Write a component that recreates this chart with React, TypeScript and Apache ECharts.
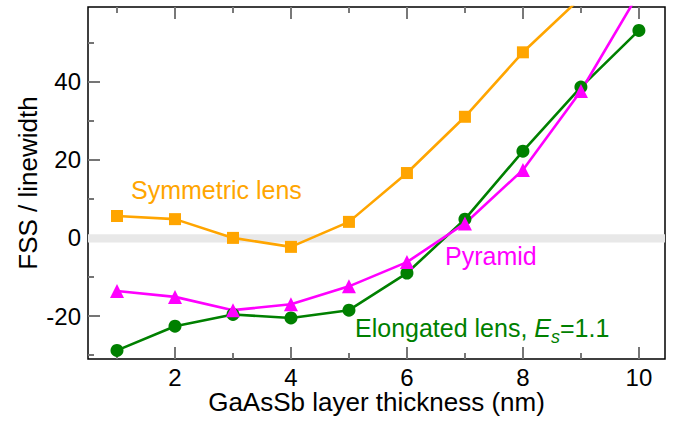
import React, { useEffect, useRef } from "react";
import * as echarts from "echarts";

const thickness = [1, 2, 3, 4, 5, 6, 7, 8, 9, 10];
const symmetricLens = [5.6, 4.8, 0.0, -2.3, 4.1, 16.6, 31.0, 47.5, 61.5];
const pyramid = [-13.6, -15.1, -18.5, -17.0, -12.4, -6.2, 3.7, 17.4, 37.6, 62.7];
const elongatedLens = [-28.8, -22.6, -19.6, -20.5, -18.5, -9.0, 4.8, 22.2, 38.6, 53.1];

const xMajorTicks = [2, 4, 6, 8, 10];
const xMinorTicks = [1, 3, 5, 7, 9];
const yMajorTicks = [-20, 0, 20, 40];
const yMinorTicks = [-30, -10, 10, 30, 50];

const xTitle = "GaAsSb layer thickness (nm)";
const yTitle = "FSS / linewidth";

const FONT = "'Liberation Sans', Arial, Helvetica, sans-serif";
const ORANGE = "#FFA500";
const MAGENTA = "#FF00FF";
const GREEN = "#008000";

const X_MIN = 0.5;
const X_MAX = 10.45;
const Y_MIN = -31;
const Y_MAX = 59.1;

function pairs(values: number[]) {
  return values.map((v, i) => [thickness[i], v]);
}

export default function App() {
  const ref = useRef<HTMLDivElement>(null);
  useEffect(() => {
    if (!ref.current) return;
    const chart = echarts.init(ref.current, null, { renderer: "svg" });

    const xAxisBase = (position: string, ticks: number[], len: number, labels: boolean, tickColor: string) => ({
      type: "value",
      position,
      min: X_MIN,
      max: X_MAX,
      axisLine: { show: false, onZero: false },
      splitLine: { show: false },
      axisTick: {
        show: true,
        inside: true,
        length: len,
        customValues: ticks,
        lineStyle: { color: tickColor, width: 2 },
      },
      axisLabel: labels
        ? { show: true, customValues: ticks, fontSize: 24, color: "#000", fontFamily: FONT, margin: 6 }
        : { show: false },
    });
    const yAxisBase = (ticks: number[], len: number, labels: boolean, tickColor: string) => ({
      type: "value",
      position: "left",
      min: Y_MIN,
      max: Y_MAX,
      axisLine: { show: false, onZero: false },
      splitLine: { show: false },
      axisTick: {
        show: true,
        inside: true,
        length: len,
        customValues: ticks,
        lineStyle: { color: tickColor, width: 2 },
      },
      axisLabel: labels
        ? { show: true, customValues: ticks, fontSize: 24, color: "#000", fontFamily: FONT, margin: 7 }
        : { show: false },
    });

    const lineSeries = (name: string, data: number[], color: string, symbol: string, size: number) => ({
      name,
      type: "line",
      xAxisIndex: 0,
      yAxisIndex: 0,
      data: pairs(data),
      symbol,
      symbolSize: size,
      clip: true,
      lineStyle: { color, width: 2.6 },
      itemStyle: { color },
      emphasis: { disabled: true },
    });

    const orange: any = lineSeries("Symmetric lens", symmetricLens, ORANGE, "rect", 12);
    orange.markArea = {
      silent: true,
      itemStyle: { color: "#e8e8e8" },
      data: [[{ yAxis: -1.15 }, { yAxis: 0.95 }]],
    };

    chart.setOption({
      animation: false,
      grid: {
        left: 88,
        top: 7,
        right: 8,
        bottom: 63,
        show: true,
        borderColor: "#000",
        borderWidth: 1.5,
        backgroundColor: "transparent",
      },
      xAxis: [
        xAxisBase("bottom", xMajorTicks, 12, true, "#767676"),
        xAxisBase("bottom", xMinorTicks, 6, false, "#777777"),
        xAxisBase("top", xMajorTicks, 12, false, "#787878"),
        xAxisBase("top", xMinorTicks, 6, false, "#797979"),
      ],
      yAxis: [yAxisBase(yMajorTicks, 12, true, "#757575"), yAxisBase(yMinorTicks, 6, false, "#747474")],
      series: [
        orange,
        lineSeries("Elongated lens", elongatedLens, GREEN, "circle", 13),
        lineSeries("Pyramid", pyramid, MAGENTA, "triangle", 14),
      ],
      graphic: [
        {
          type: "text",
          x: 376.5,
          y: 401.5,
          style: {
            text: xTitle,
            fill: "#000",
            fontSize: 26,
            fontFamily: FONT,
            verticalAlign: "middle",
            align: "center",
          },
        },
        {
          type: "text",
          x: 28,
          y: 183,
          rotation: Math.PI / 2,
          style: {
            text: yTitle,
            fill: "#000",
            fontSize: 26,
            fontFamily: FONT,
            verticalAlign: "middle",
            align: "center",
          },
        },
        {
          type: "text",
          x: 131,
          y: 190,
          style: {
            text: "Symmetric lens",
            fill: ORANGE,
            fontSize: 25,
            fontFamily: FONT,
            verticalAlign: "middle",
            align: "left",
          },
        },
        {
          type: "text",
          x: 445,
          y: 256,
          style: {
            text: "Pyramid",
            fill: MAGENTA,
            fontSize: 25,
            fontFamily: FONT,
            verticalAlign: "middle",
            align: "left",
          },
        },
        {
          type: "text",
          x: 355,
          y: 328,
          style: {
            text: "{a|Elongated lens, }{e|E}{s|s}{a|=1.1}",
            fill: GREEN,
            fontSize: 25,
            fontFamily: FONT,
            verticalAlign: "middle",
            align: "left",
            rich: {
              a: { fill: GREEN, fontSize: 25, fontFamily: FONT },
              e: { fill: GREEN, fontSize: 25, fontFamily: FONT, fontStyle: "italic" },
              s: {
                fill: GREEN,
                fontSize: 18,
                fontFamily: FONT,
                fontStyle: "italic",
                padding: [17, 0, 0, 0],
              },
            },
          },
        },
      ],
    });
    return () => chart.dispose();
  }, []);

  return (
    <div
      ref={ref}
      style={{ position: "fixed", left: 0, top: 0, width: 673, height: 422, background: "#fff" }}
    />
  );
}
